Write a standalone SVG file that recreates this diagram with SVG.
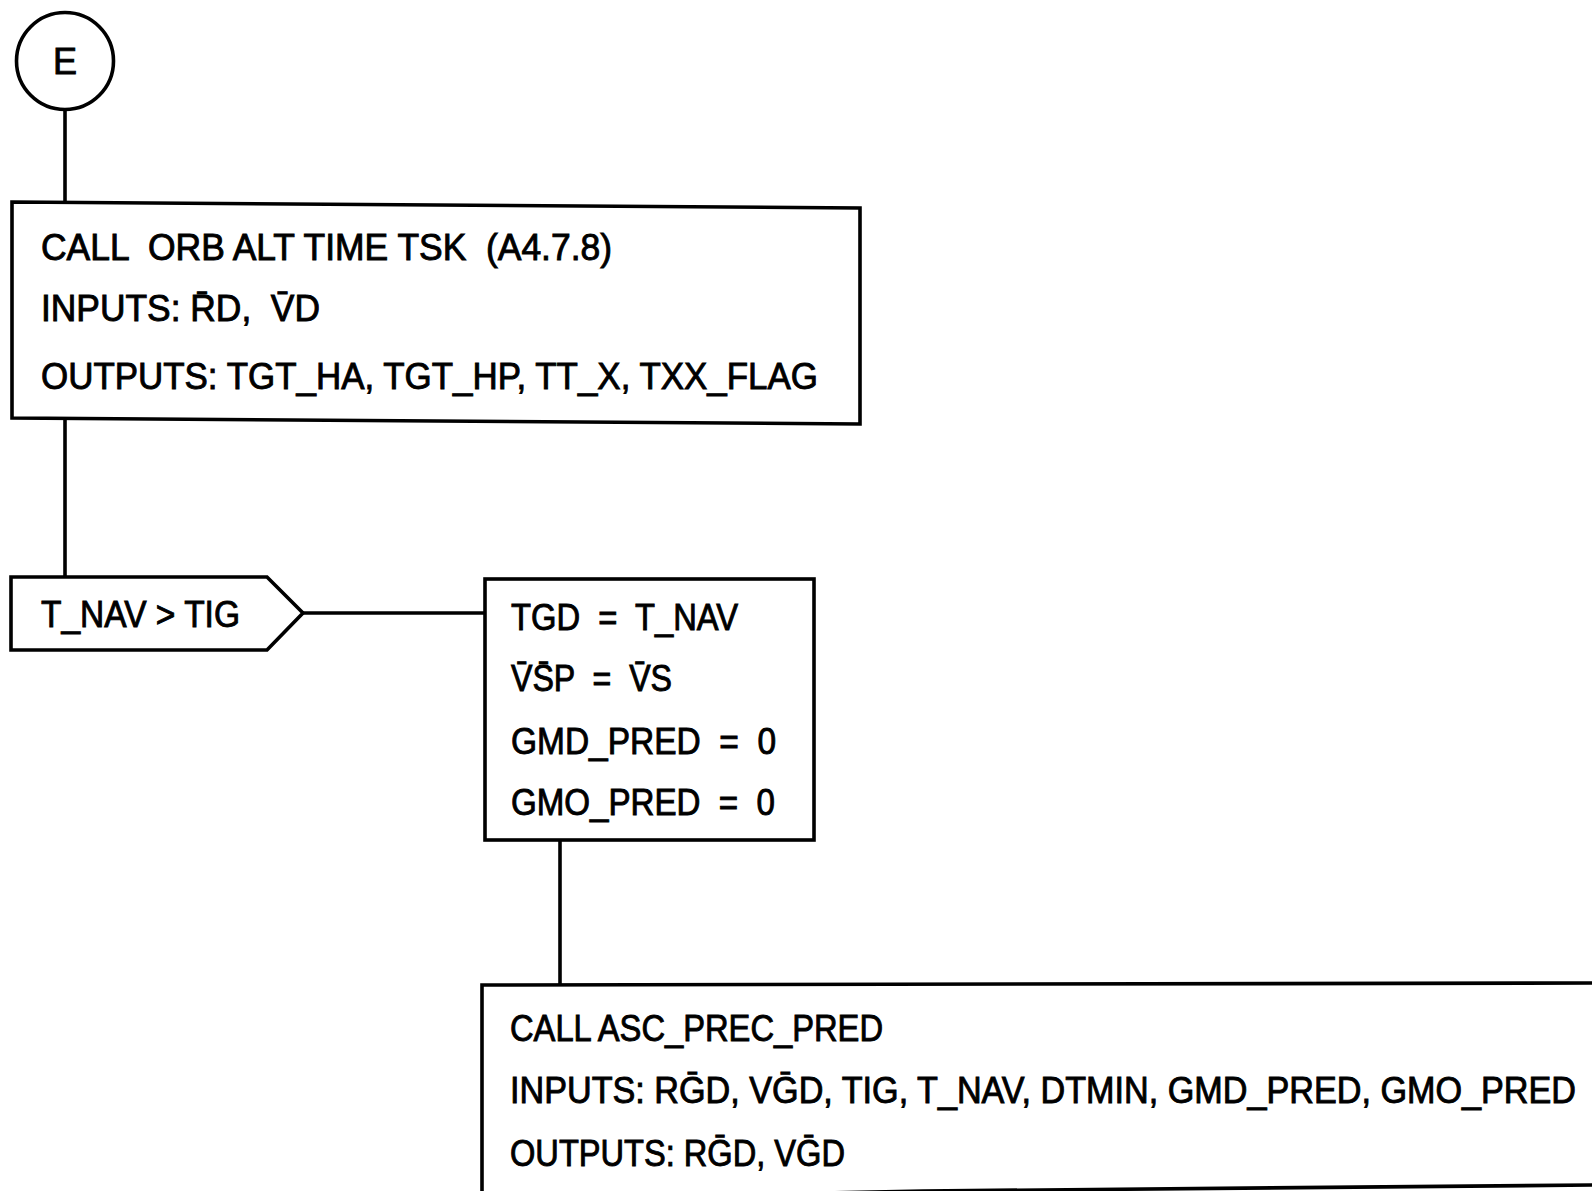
<svg xmlns="http://www.w3.org/2000/svg" width="1592" height="1191" viewBox="0 0 1592 1191">
<style>
.n{fill:#fff;stroke:#000;stroke-width:3.6;stroke-linejoin:miter}
.c{fill:none;stroke:#000;stroke-width:3.6}
text{font-family:"Liberation Sans",Arial,sans-serif;font-size:36px;fill:#000;stroke:#000;stroke-width:0.9;white-space:pre}
</style>
<rect width="1592" height="1191" fill="#fff"/>
<g id="connectors">
<line class="c" x1="65" y1="110" x2="65" y2="205"/>
<line class="c" x1="65" y1="420" x2="65" y2="577"/>
<line class="c" x1="303" y1="613" x2="485" y2="613"/>
<line class="c" x1="560" y1="840" x2="560" y2="985"/>
</g>
<g id="start">
<circle class="n" cx="65" cy="61" r="48.5"/>
<text x="65" y="74" text-anchor="middle" font-size="35" stroke-width="1.4">E</text>
</g>
<g id="call-orb">
<polygon class="n" points="12,202 860,208 860,424 12,418"/>
<text x="41" y="260" textLength="571" lengthAdjust="spacingAndGlyphs">CALL  ORB ALT TIME TSK  (A4.7.8)</text>
<text x="41" y="321" textLength="279" lengthAdjust="spacingAndGlyphs">INPUTS: R̄D,  V̄D</text>
<text x="41" y="389" textLength="777" lengthAdjust="spacingAndGlyphs">OUTPUTS: TGT_HA, TGT_HP, TT_X, TXX_FLAG</text>
</g>
<g id="decision">
<polygon class="n" points="11,577 267,577 303,613 267,650 11,650"/>
<text x="41" y="627" textLength="199" lengthAdjust="spacingAndGlyphs">T_NAV &gt; TIG</text>
</g>
<g id="assign">
<rect class="n" x="485" y="579" width="329" height="261"/>
<text x="511" y="630" textLength="227" lengthAdjust="spacingAndGlyphs">TGD  =  T_NAV</text>
<text x="511" y="691" textLength="161" lengthAdjust="spacingAndGlyphs">V̄S̄P  =  V̄S</text>
<text x="511" y="754" textLength="265" lengthAdjust="spacingAndGlyphs">GMD_PRED  =  0</text>
<text x="511" y="815" textLength="264" lengthAdjust="spacingAndGlyphs">GMO_PRED  =  0</text>
</g>
<g id="call-asc">
<polygon class="n" points="482,985 1600,983 1600,1185 923,1191 482,1200"/>
<text x="510" y="1041" textLength="373" lengthAdjust="spacingAndGlyphs">CALL ASC_PREC_PRED</text>
<text x="510" y="1103" textLength="1066" lengthAdjust="spacingAndGlyphs">INPUTS: RḠD, VḠD, TIG, T_NAV, DTMIN, GMD_PRED, GMO_PRED</text>
<text x="510" y="1166" textLength="335" lengthAdjust="spacingAndGlyphs">OUTPUTS: RḠD, VḠD</text>
</g>
</svg>
